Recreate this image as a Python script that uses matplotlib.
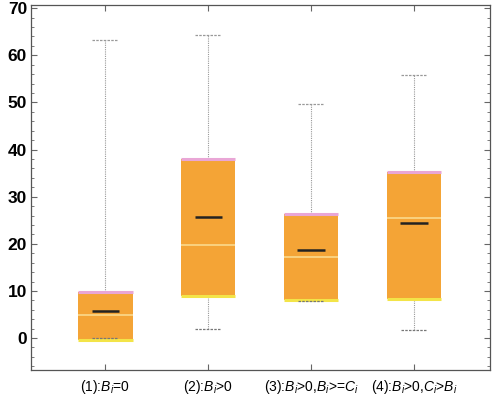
import matplotlib
matplotlib.use("Agg")
import matplotlib.pyplot as plt
from matplotlib.ticker import MultipleLocator
import numpy as np

categories = [r"(1):$\mathit{B_i}$=0", r"(2):$\mathit{B_i}$>0",
              r"(3):$\mathit{B_i}$>0,$\mathit{B_i}$>=$\mathit{C_i}$",
              r"(4):$\mathit{B_i}$>0,$\mathit{C_i}$>$\mathit{B_i}$"]
whisker_low = [0.0, 1.9, 7.8, 1.7]
q1 = [-0.5, 9.0, 8.0, 8.2]
median = [5.8, 25.7, 18.7, 24.5]
mean = [4.8, 19.8, 17.3, 25.5]
q3 = [9.7, 37.9, 26.4, 35.3]
whisker_high = [63.2, 64.2, 49.7, 55.9]

plt.rcParams['font.family'] = ['Liberation Sans', 'DejaVu Sans']
plt.rcParams['mathtext.fontset'] = 'custom'
plt.rcParams['mathtext.it'] = 'Liberation Sans:italic'
plt.rcParams['mathtext.rm'] = 'Liberation Sans'

fig = plt.figure(figsize=(4.95, 4.01), dpi=100)
ax = fig.add_axes([0.063, 0.077, 0.927, 0.911])

pos = np.arange(1, len(categories) + 1)
w = 0.53
box = np.array(q3) - np.array(q1)
ax.bar(pos, box, bottom=q1, width=w, color='#F4A436', edgecolor='none', zorder=2)
ax.hlines(q3, pos - w/2, pos + w/2, color='#E9A6D6', lw=2.2, zorder=3)
ax.hlines(q1, pos - w/2, pos + w/2, color='#F3E448', lw=2.2, zorder=3)
ax.hlines(mean, pos - w/2, pos + w/2, color='#FBD98C', lw=1.2, zorder=3)
ax.hlines(median, pos - w/4, pos + w/4, color='#222222', lw=1.8, zorder=4)
ax.vlines(pos, q3, whisker_high, color='#999999', lw=0.8, linestyles=(0, (1, 1)), zorder=1)
ax.vlines(pos, whisker_low, q1, color='#999999', lw=0.8, linestyles=(0, (1, 1)), zorder=1)
ax.hlines(whisker_high, pos - 0.125, pos + 0.125, color='#999999', lw=0.9, linestyles=(0, (2, 1)), zorder=1)
ax.hlines(whisker_low, pos - 0.125, pos + 0.125, color='#777777', lw=0.9, linestyles=(0, (2, 1)), zorder=5)

ax.set_xlim(0.28, 4.74)
ax.set_ylim(-6.8, 70.7)
ax.set_xticks(pos)
ax.set_xticklabels(categories, fontsize=10)
ax.yaxis.set_major_locator(MultipleLocator(10))
ax.yaxis.set_minor_locator(MultipleLocator(2))
ax.tick_params(axis='both', which='both', direction='in', top=True, right=True, color='#666666')
ax.tick_params(axis='y', which='major', length=4, labelsize=12.5, pad=3)
ax.tick_params(axis='y', which='minor', length=2)
ax.tick_params(axis='x', length=4, pad=6)
for lab in ax.get_yticklabels():
    lab.set_fontweight('bold')
for s in ax.spines.values():
    s.set_color('#555555')
    s.set_linewidth(0.9)

fig.savefig("out.png", dpi=100)
